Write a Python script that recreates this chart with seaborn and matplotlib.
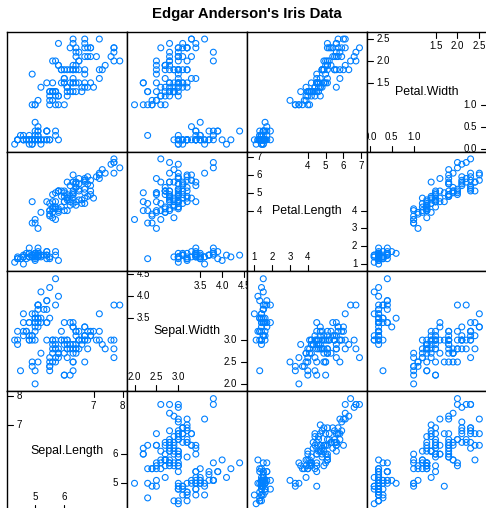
import numpy as np
import pandas as pd
import matplotlib
matplotlib.use('Agg')
import matplotlib.pyplot as plt
import matplotlib.transforms as mtransforms
import seaborn as sns

# Edgar Anderson's iris measurements (150 flowers)
sepal_length = [5.1, 4.9, 4.7, 4.6, 5.0, 5.4, 4.6, 5.0, 4.4, 4.9, 5.4, 4.8, 4.8, 4.3, 5.8, 5.7, 5.4, 5.1, 5.7, 5.1,
                5.4, 5.1, 4.6, 5.1, 4.8, 5.0, 5.0, 5.2, 5.2, 4.7, 4.8, 5.4, 5.2, 5.5, 4.9, 5.0, 5.5, 4.9, 4.4, 5.1,
                5.0, 4.5, 4.4, 5.0, 5.1, 4.8, 5.1, 4.6, 5.3, 5.0,
                7.0, 6.4, 6.9, 5.5, 6.5, 5.7, 6.3, 4.9, 6.6, 5.2, 5.0, 5.9, 6.0, 6.1, 5.6, 6.7, 5.6, 5.8, 6.2, 5.6,
                5.9, 6.1, 6.3, 6.1, 6.4, 6.6, 6.8, 6.7, 6.0, 5.7, 5.5, 5.5, 5.8, 6.0, 5.4, 6.0, 6.7, 6.3, 5.6, 5.5,
                5.5, 6.1, 5.8, 5.0, 5.6, 5.7, 5.7, 6.2, 5.1, 5.7,
                6.3, 5.8, 7.1, 6.3, 6.5, 7.6, 4.9, 7.3, 6.7, 7.2, 6.5, 6.4, 6.8, 5.7, 5.8, 6.4, 6.5, 7.7, 7.7, 6.0,
                6.9, 5.6, 7.7, 6.3, 6.7, 7.2, 6.2, 6.1, 6.4, 7.2, 7.4, 7.9, 6.4, 6.3, 6.1, 7.7, 6.3, 6.4, 6.0, 6.9,
                6.7, 6.9, 5.8, 6.8, 6.7, 6.7, 6.3, 6.5, 6.2, 5.9]
sepal_width = [3.5, 3.0, 3.2, 3.1, 3.6, 3.9, 3.4, 3.4, 2.9, 3.1, 3.7, 3.4, 3.0, 3.0, 4.0, 4.4, 3.9, 3.5, 3.8, 3.8,
               3.4, 3.7, 3.6, 3.3, 3.4, 3.0, 3.4, 3.5, 3.4, 3.2, 3.1, 3.4, 4.1, 4.2, 3.1, 3.2, 3.5, 3.6, 3.0, 3.4,
               3.5, 2.3, 3.2, 3.5, 3.8, 3.0, 3.8, 3.2, 3.7, 3.3,
               3.2, 3.2, 3.1, 2.3, 2.8, 2.8, 3.3, 2.4, 2.9, 2.7, 2.0, 3.0, 2.2, 2.9, 2.9, 3.1, 3.0, 2.7, 2.2, 2.5,
               3.2, 2.8, 2.5, 2.8, 2.9, 3.0, 2.8, 3.0, 2.9, 2.6, 2.4, 2.4, 2.7, 2.7, 3.0, 3.4, 3.1, 2.3, 3.0, 2.5,
               2.6, 3.0, 2.6, 2.3, 2.7, 3.0, 2.9, 2.9, 2.5, 2.8,
               3.3, 2.7, 3.0, 2.9, 3.0, 3.0, 2.5, 2.9, 2.5, 3.6, 3.2, 2.7, 3.0, 2.5, 2.8, 3.2, 3.0, 3.8, 2.6, 2.2,
               3.2, 2.8, 2.8, 2.7, 3.3, 3.2, 2.8, 3.0, 2.8, 3.0, 2.8, 3.8, 2.8, 2.8, 2.6, 3.0, 3.4, 3.1, 3.0, 3.1,
               3.1, 3.1, 2.7, 3.2, 3.3, 3.0, 2.5, 3.0, 3.4, 3.0]
petal_length = [1.4, 1.4, 1.3, 1.5, 1.4, 1.7, 1.4, 1.5, 1.4, 1.5, 1.5, 1.6, 1.4, 1.1, 1.2, 1.5, 1.3, 1.4, 1.7, 1.5,
                1.7, 1.5, 1.0, 1.7, 1.9, 1.6, 1.6, 1.5, 1.4, 1.6, 1.6, 1.5, 1.5, 1.4, 1.5, 1.2, 1.3, 1.4, 1.3, 1.5,
                1.3, 1.3, 1.3, 1.6, 1.9, 1.4, 1.6, 1.4, 1.5, 1.4,
                4.7, 4.5, 4.9, 4.0, 4.6, 4.5, 4.7, 3.3, 4.6, 3.9, 3.5, 4.2, 4.0, 4.7, 3.6, 4.4, 4.5, 4.1, 4.5, 3.9,
                4.8, 4.0, 4.9, 4.7, 4.3, 4.4, 4.8, 5.0, 4.5, 3.5, 3.8, 3.7, 3.9, 5.1, 4.5, 4.5, 4.7, 4.4, 4.1, 4.0,
                4.4, 4.6, 4.0, 3.3, 4.2, 4.2, 4.2, 4.3, 3.0, 4.1,
                6.0, 5.1, 5.9, 5.6, 5.8, 6.6, 4.5, 6.3, 5.8, 6.1, 5.1, 5.3, 5.5, 5.0, 5.1, 5.3, 5.5, 6.7, 6.9, 5.0,
                5.7, 4.9, 6.7, 4.9, 5.7, 6.0, 4.8, 4.9, 5.6, 5.8, 6.1, 6.4, 5.6, 5.1, 5.6, 6.1, 5.6, 5.5, 4.8, 5.4,
                5.6, 5.1, 5.1, 5.9, 5.7, 5.2, 5.0, 5.2, 5.4, 5.1]
petal_width = [0.2, 0.2, 0.2, 0.2, 0.2, 0.4, 0.3, 0.2, 0.2, 0.1, 0.2, 0.2, 0.1, 0.1, 0.2, 0.4, 0.4, 0.3, 0.3, 0.3,
               0.2, 0.4, 0.2, 0.5, 0.2, 0.2, 0.4, 0.2, 0.2, 0.2, 0.2, 0.4, 0.1, 0.2, 0.2, 0.2, 0.2, 0.1, 0.2, 0.2,
               0.3, 0.3, 0.2, 0.6, 0.4, 0.3, 0.2, 0.2, 0.2, 0.2,
               1.4, 1.5, 1.5, 1.3, 1.5, 1.3, 1.6, 1.0, 1.3, 1.4, 1.0, 1.5, 1.0, 1.4, 1.3, 1.4, 1.5, 1.0, 1.5, 1.1,
               1.8, 1.3, 1.5, 1.2, 1.3, 1.4, 1.4, 1.7, 1.5, 1.0, 1.1, 1.0, 1.2, 1.6, 1.5, 1.6, 1.5, 1.3, 1.3, 1.3,
               1.2, 1.4, 1.2, 1.0, 1.3, 1.2, 1.3, 1.3, 1.1, 1.3,
               2.5, 1.9, 2.1, 1.8, 2.2, 2.1, 1.7, 1.8, 1.8, 2.5, 2.0, 1.9, 2.1, 2.0, 2.4, 2.3, 1.8, 2.2, 2.3, 1.5,
               2.3, 2.0, 2.0, 1.8, 2.1, 1.8, 1.8, 1.8, 2.1, 1.6, 1.9, 2.0, 2.2, 1.5, 1.4, 2.3, 2.4, 1.8, 1.8, 2.1,
               2.4, 2.3, 1.9, 2.3, 2.5, 2.3, 1.9, 2.0, 2.3, 1.8]

variables = ['Sepal.Length', 'Sepal.Width', 'Petal.Length', 'Petal.Width']

# Axis labels drawn inside the diagonal panels
lower_ticks = {'Sepal.Length': ['5', '6'],
               'Sepal.Width': ['2.0', '2.5', '3.0'],
               'Petal.Length': ['1', '2', '3', '4'],
               'Petal.Width': ['0.0', '0.5', '1.0']}
upper_ticks = {'Sepal.Length': ['7', '8'],
               'Sepal.Width': ['3.5', '4.0', '4.5'],
               'Petal.Length': ['4', '5', '6', '7'],
               'Petal.Width': ['1.5', '2.0', '2.5']}

iris = pd.DataFrame({'Sepal.Length': sepal_length,
                     'Sepal.Width': sepal_width,
                     'Petal.Length': petal_length,
                     'Petal.Width': petal_width})

sns.set_style('white')
plt.rcParams['font.family'] = ['Liberation Sans', 'DejaVu Sans']
plt.rcParams['text.color'] = 'black'

W, H = 486, 508
fig = plt.figure(figsize=(W / 100, H / 100), dpi=100)

left0, top0, size = 7.3, 31.7, 119.85
tl = 0.05        # tick length (axes fraction)
point_col = '#0080ff'


def limits(v):
    lo, hi = iris[v].min(), iris[v].max()
    pad = 0.07 * (hi - lo)
    return lo - pad, hi + pad


for i, yvar in enumerate(reversed(variables)):
    for j, xvar in enumerate(variables):
        ax = fig.add_axes([(left0 + j * size) / W,
                           1 - (top0 + (i + 1) * size) / H,
                           size / W, size / H])
        if xvar == yvar:
            lim = limits(xvar)
            ax.set_xlim(lim)
            ax.set_ylim(lim)
            ax.text(0.5, 0.5, xvar, transform=ax.transAxes, ha='center',
                    va='center', fontsize=8.9)
            ty = mtransforms.blended_transform_factory(ax.transAxes, ax.transData)
            tx = mtransforms.blended_transform_factory(ax.transData, ax.transAxes)
            for lab in upper_ticks[xvar]:
                v = float(lab)
                ax.plot([0, tl], [v, v], transform=ty, color='black', lw=0.8)
                ax.text(tl + 0.03, v, lab, transform=ty, ha='left',
                        va='center', fontsize=7, clip_on=True)
                ax.plot([v, v], [1 - tl, 1], transform=tx, color='black', lw=0.8)
                ax.text(v, 1 - tl - 0.03, lab, transform=tx, ha='center',
                        va='top', fontsize=7, clip_on=True)
            for lab in lower_ticks[xvar]:
                v = float(lab)
                ax.plot([1 - tl, 1], [v, v], transform=ty, color='black', lw=0.8)
                ax.text(1 - tl - 0.03, v, lab, transform=ty, ha='right',
                        va='center', fontsize=7, clip_on=True)
                ax.plot([v, v], [0, tl], transform=tx, color='black', lw=0.8)
                ax.text(v, tl + 0.03, lab, transform=tx, ha='center',
                        va='bottom', fontsize=7, clip_on=True)
        else:
            sns.scatterplot(data=iris, x=xvar, y=yvar, ax=ax, marker='o',
                            color=point_col, facecolor='none',
                            edgecolor=point_col, linewidth=0.8, s=18)
            ax.set_xlim(limits(xvar))
            ax.set_ylim(limits(yvar))
        ax.set_xlabel('')
        ax.set_ylabel('')
        ax.set_xticks([])
        ax.set_yticks([])
        for sp in ax.spines.values():
            sp.set_color('black')
            sp.set_linewidth(1.0)

fig.text(247 / W, 1 - 14 / H, "Edgar Anderson's Iris Data", ha='center',
         va='center', fontsize=10.7, fontweight='bold')

fig.savefig('out.png', dpi=100)
